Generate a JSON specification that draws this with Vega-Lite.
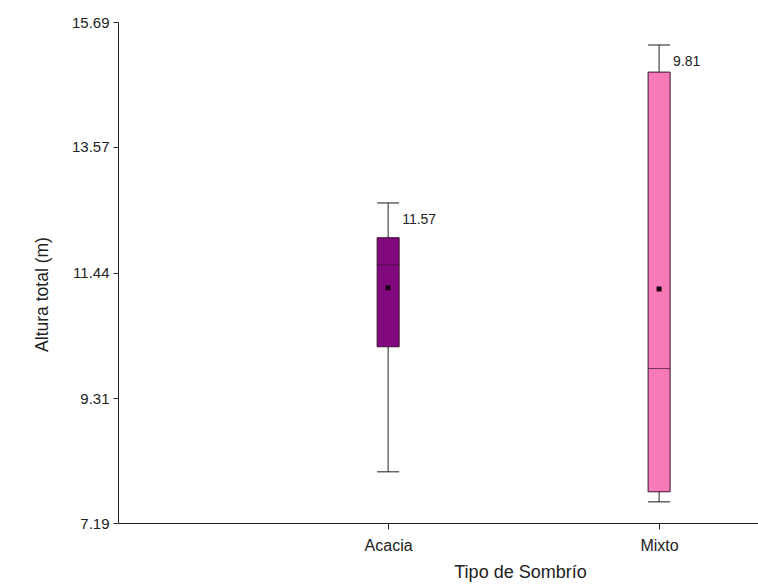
{
  "$schema": "https://vega.github.io/schema/vega-lite/v6.json",
  "width": 640,
  "height": 501,
  "autosize": {"type": "none"},
  "padding": {"left": 118, "top": 22, "right": 0, "bottom": 61},
  "background": "white",
  "config": {
    "view": {"stroke": null},
    "font": "Liberation Sans",
    "axis": {"grid": false, "domainColor": "#222", "tickColor": "#222", "labelColor": "#222", "titleColor": "#222", "labelFont": "Liberation Sans", "titleFont": "Liberation Sans", "titleFontWeight": "normal"}
  },
  "data": {
    "values": [
      {"tipo": "Acacia", "lower": 8.06, "q1": 10.18, "median": 11.57, "q3": 12.03, "upper": 12.62, "mean": 11.18},
      {"tipo": "Mixto", "lower": 7.55, "q1": 7.72, "median": 9.81, "q3": 14.84, "upper": 15.3, "mean": 11.16}
    ]
  },
  "encoding": {
    "x": {
      "field": "tipo",
      "type": "nominal",
      "scale": {"type": "point", "domain": ["Acacia", "Mixto"], "padding": 0.681, "align": 0.732},
      "axis": {"title": "Tipo  de Sombrío", "labelAngle": 0, "labelFontSize": 16, "labelPadding": 8, "tickSize": 6, "titleFontSize": 18, "titleX": 402, "titleY": 49, "titleBaseline": "middle", "titleAlign": "center"}
    }
  },
  "layer": [
    {
      "mark": {"type": "rule", "color": "#222", "strokeWidth": 1},
      "encoding": {
        "y": {"field": "lower", "type": "quantitative", "scale": {"domain": [7.19, 15.69], "nice": false, "zero": false},
          "axis": {"title": "Altura total (m)", "values": [7.19, 9.31, 11.44, 13.57, 15.69], "format": ".2f", "labelFontSize": 15, "tickSize": 5, "labelPadding": 4, "titleFontSize": 17.5, "titleX": -76, "titleY": 272, "titleBaseline": "middle", "titleAlign": "center"}},
        "y2": {"field": "upper"}
      }
    },
    {
      "mark": {"type": "tick", "color": "#222", "size": 22, "thickness": 1.5, "orient": "horizontal"},
      "encoding": {"y": {"field": "upper", "type": "quantitative"}}
    },
    {
      "mark": {"type": "tick", "color": "#222", "size": 22, "thickness": 1.5, "orient": "horizontal"},
      "encoding": {"y": {"field": "lower", "type": "quantitative"}}
    },
    {
      "mark": {"type": "bar", "size": 22, "stroke": "#3b1030", "strokeWidth": 1},
      "encoding": {
        "y": {"field": "q1", "type": "quantitative"},
        "y2": {"field": "q3"},
        "color": {"field": "tipo", "type": "nominal", "scale": {"domain": ["Acacia", "Mixto"], "range": ["#82087f", "#f779b6"]}, "legend": null}
      }
    },
    {
      "mark": {"type": "tick", "color": "#3b1030", "size": 22, "thickness": 1, "orient": "horizontal"},
      "encoding": {"y": {"field": "median", "type": "quantitative"}}
    },
    {
      "mark": {"type": "square", "color": "#1a0010", "size": 25, "opacity": 1, "filled": true},
      "encoding": {"y": {"field": "mean", "type": "quantitative"}}
    },
    {
      "mark": {"type": "text", "align": "left", "baseline": "middle", "dx": 14, "dy": 17, "fontSize": 14, "color": "#222"},
      "encoding": {
        "y": {"field": "upper", "type": "quantitative"},
        "text": {"field": "median", "type": "quantitative", "format": ".2f"}
      }
    }
  ]
}
